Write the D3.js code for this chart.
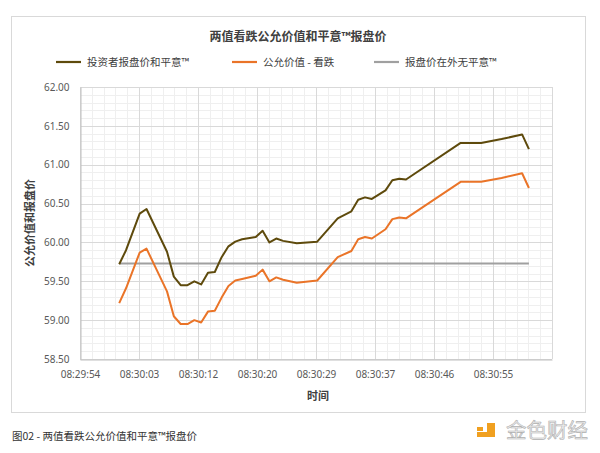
<!DOCTYPE html>
<html><head><meta charset="utf-8">
<script src="https://cdn.jsdelivr.net/npm/d3@7"></script>
<style>
html,body{margin:0;padding:0;background:#fff;}
svg{display:block;font-family:"Noto Sans CJK SC","Noto Sans",sans-serif;}
</style></head><body>
<svg id="c" width="600" height="453"></svg>
<script>
// ---- data ----
const times = ["08:30:00","08:30:01","08:30:03","08:30:04","08:30:07","08:30:08","08:30:09","08:30:10","08:30:11","08:30:12","08:30:13","08:30:14","08:30:15","08:30:16","08:30:17","08:30:18","08:30:20","08:30:21","08:30:22","08:30:23","08:30:24","08:30:26","08:30:29","08:30:32","08:30:34","08:30:35","08:30:36","08:30:37","08:30:39","08:30:40","08:30:41","08:30:42","08:30:50","08:30:53","08:30:56","08:30:59","08:31:00"];
const investorQuote = [59.72,59.90,60.37,60.43,59.88,59.56,59.45,59.45,59.50,59.46,59.61,59.62,59.81,59.95,60.01,60.04,60.07,60.15,60.00,60.05,60.02,59.99,60.01,60.31,60.40,60.55,60.58,60.56,60.67,60.80,60.82,60.81,61.28,61.28,61.33,61.39,61.20];
const fairValuePut = [59.22,59.41,59.87,59.92,59.37,59.05,58.95,58.95,59.00,58.97,59.11,59.12,59.29,59.44,59.51,59.53,59.57,59.65,59.50,59.55,59.52,59.48,59.51,59.81,59.89,60.04,60.07,60.05,60.17,60.30,60.32,60.31,60.78,60.78,60.83,60.89,60.70];
const outOfMoneyQuote = times.map(() => 59.73);
const seriesNames = ["投资者报盘价和平意™","公允价值 - 看跌","报盘价在外无平意™"];
const seriesColors = ["#5e4a0c","#ea7428","#a0a0a0"];
const xTickLabels = ["08:29:54","08:30:03","08:30:12","08:30:20","08:30:29","08:30:37","08:30:46","08:30:55"];
const yTicks = [58.5,59.0,59.5,60.0,60.5,61.0,61.5,62.0];
const xAxisStart = "08:29:54.26";
const xMajorStepSec = 8.64;   // 0.0001 day
const title = "两值看跌公允价值和平意™报盘价";
const xTitle = "时间";
const yTitle = "公允价值和报盘价";
const caption = "图02 - 两值看跌公允价值和平意™报盘价";

// ---- helpers ----
function toSec(s){const p=s.split(":");return +p[0]*3600 + +p[1]*60 + +p[2];}
const svg = d3.select("#c");
const L=80, R=552, T=87, B=359;
const x0 = toSec(xAxisStart);
const nMajor = 8;
const x = d3.scaleLinear().domain([x0, x0 + nMajor*xMajorStepSec]).range([L,R]);
const y = d3.scaleLinear().domain([58.5,62]).range([B,T]);

// chart box
svg.append("rect").attr("x",11.5).attr("y",16.5).attr("width",574).attr("height",396)
  .attr("fill","#fff").attr("stroke","#d9d9d9");

// minor grid
const g = svg.append("g");
const minorX = d3.range(0, nMajor*5+1).map(i => x0 + i*xMajorStepSec/5);
const minorY = d3.range(0, 36).map(i => 58.5 + i*0.1);
g.selectAll(".mx").data(minorX).join("line")
  .attr("x1",d=>Math.round(x(d))+0.5).attr("x2",d=>Math.round(x(d))+0.5).attr("y1",T).attr("y2",B)
  .attr("stroke","#efefef").attr("stroke-width",1);
g.selectAll(".my").data(minorY).join("line")
  .attr("y1",d=>Math.round(y(d))+0.5).attr("y2",d=>Math.round(y(d))+0.5).attr("x1",L).attr("x2",R)
  .attr("stroke","#efefef").attr("stroke-width",1);
// major grid
const majorX = d3.range(0, nMajor+1).map(i => x0 + i*xMajorStepSec);
g.selectAll(".Mx").data(majorX).join("line")
  .attr("x1",d=>Math.round(x(d))+0.5).attr("x2",d=>Math.round(x(d))+0.5).attr("y1",T).attr("y2",B)
  .attr("stroke","#d9d9d9").attr("stroke-width",1);
g.selectAll(".My").data(yTicks).join("line")
  .attr("y1",d=>Math.round(y(d))+0.5).attr("y2",d=>Math.round(y(d))+0.5).attr("x1",L).attr("x2",R)
  .attr("stroke","#d9d9d9").attr("stroke-width",1);

// axes
const yAxis = d3.axisLeft(y).tickValues(yTicks).tickFormat(d3.format(".2f")).tickSize(0).tickPadding(11);
const ya = svg.append("g").attr("transform",`translate(${L+0.5},0)`).call(yAxis);
ya.select(".domain").attr("stroke","#bfbfbf");
ya.selectAll("text").attr("fill","#595959").style("font-size","10px").style("font-family","'Noto Sans','Noto Sans CJK SC',sans-serif");

const xTickVals = xTickLabels.map((_,i) => x0 + i*xMajorStepSec);
const xAxis = d3.axisBottom(x).tickValues(xTickVals).tickFormat((d,i)=>xTickLabels[i]).tickSize(0).tickPadding(11);
const xa = svg.append("g").attr("transform",`translate(0,${B+0.5})`).call(xAxis);
xa.select(".domain").attr("stroke","#bfbfbf");
xa.selectAll("text").attr("fill","#595959").style("font-size","10px").style("font-family","'Noto Sans','Noto Sans CJK SC',sans-serif");

// lines
const tsec = times.map(toSec);
const allSeries = [investorQuote, fairValuePut, outOfMoneyQuote];
const line = d3.line().x(d=>x(d[0])).y(d=>y(d[1]));
[2,0,1].forEach(k => {
  svg.append("path").datum(tsec.map((t,i)=>[t, allSeries[k][i]]))
    .attr("d",line).attr("fill","none").attr("stroke",seriesColors[k])
    .attr("stroke-width",2).attr("stroke-linejoin","round");
});

// title
svg.append("text").attr("x",298).attr("y",41).attr("text-anchor","middle")
  .attr("fill","#404040").style("font-size","12px").style("font-weight","bold").text(title);

// legend
const legX = [56, 232, 374];
seriesNames.forEach((n,i)=>{
  svg.append("line").attr("x1",legX[i]).attr("x2",legX[i]+25).attr("y1",62).attr("y2",62)
    .attr("stroke",seriesColors[i]).attr("stroke-width",2.2);
  svg.append("text").attr("x",legX[i]+31).attr("y",66).attr("fill","#404040")
    .style("font-size","10.5px").text(n);
});

// axis titles
svg.append("text").attr("x",(L+R)/2+2).attr("y",400).attr("text-anchor","middle")
  .attr("fill","#404040").style("font-size","11px").style("font-weight","bold").text(xTitle);
svg.append("text").attr("transform",`translate(34,${(T+B)/2}) rotate(-90)`).attr("text-anchor","middle")
  .attr("fill","#404040").style("font-size","11px").style("font-weight","bold").text(yTitle);

// caption
svg.append("text").attr("x",12).attr("y",440).attr("fill","#333")
  .style("font-size","10.5px").text(caption);

// watermark
const wm = svg.append("g");
wm.append("rect").attr("x",487).attr("y",423).attr("width",8).attr("height",14).attr("fill","#f0a020");
wm.append("rect").attr("x",477).attr("y",432).attr("width",18).attr("height",5).attr("fill","#f0a020");
wm.append("rect").attr("x",477).attr("y",427).attr("width",6).attr("height",4).attr("fill","#f0a020");
wm.append("text").attr("x",506).attr("y",438).attr("fill","#ececec").attr("stroke","#b0b0b0").attr("stroke-width",0.6)
  .style("font-size","20.5px").text("金色财经");
</script>
</body></html>
